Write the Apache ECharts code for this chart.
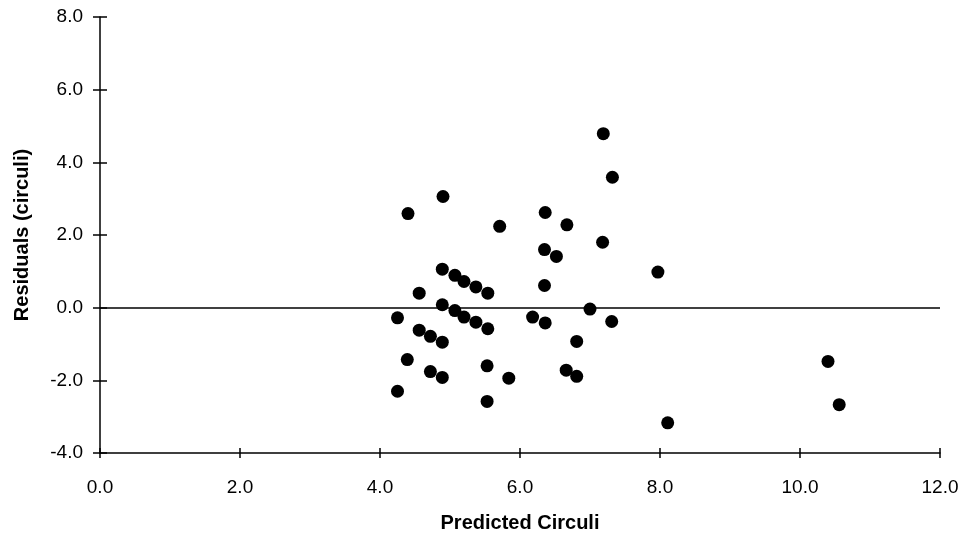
<!DOCTYPE html>
<html><head><meta charset="utf-8">
<script src="https://cdn.jsdelivr.net/npm/echarts@6/dist/echarts.min.js"></script>
<style>html,body{margin:0;padding:0;background:#fff}#c{width:967px;height:542px}</style>
</head><body><div id="c"></div>
<script>
const xTitle = "Predicted Circuli";
const yTitle = "Residuals (circuli)";
const predicted = [4.40,4.90,5.71,6.36,6.67,6.35,6.52,6.35,4.89,5.07,5.20,5.37,5.54,4.56,4.89,5.07,5.20,5.37,5.54,4.25,4.56,4.72,4.89,6.18,6.36,6.81,4.39,4.72,4.89,5.53,5.84,4.25,5.53,6.66,6.81,7.19,7.32,7.18,7.97,7.00,7.31,8.11,10.40,10.56];
const residuals = [2.59,3.06,2.24,2.62,2.28,1.60,1.41,0.61,1.06,0.89,0.72,0.57,0.40,0.40,0.08,-0.08,-0.26,-0.40,-0.58,-0.28,-0.62,-0.79,-0.95,-0.26,-0.42,-0.93,-1.43,-1.76,-1.92,-1.60,-1.94,-2.30,-2.58,-1.72,-1.89,4.79,3.59,1.80,0.98,-0.04,-0.38,-3.17,-1.48,-2.67];
const xMin = 0, xMax = 12, xStep = 2;
const yMin = -4, yMax = 8, yStep = 2;
const refLineY = 0;

const pts = predicted.map((v,i)=>[v,residuals[i]]);
const fontFam = "'Liberation Sans', Arial, sans-serif";
const lineStyle = {color:'#000', width:1.5};
const hidden = {color:'rgba(0,0,0,0)', width:1};
const chart = echarts.init(document.getElementById('c'));
chart.setOption({
  animation:false,
  grid:{left:100,right:27,top:17,bottom:89,containLabel:false},
  xAxis:[{
    type:'value',min:xMin,max:xMax,interval:xStep,
    name:xTitle,nameLocation:'middle',nameGap:60,
    nameTextStyle:{fontFamily:fontFam,fontWeight:'bold',fontSize:20,color:'#000'},
    axisLine:{onZero:false,lineStyle:lineStyle},
    axisTick:{show:true,length:5,lineStyle:lineStyle},
    axisLabel:{fontFamily:fontFam,fontSize:19,color:'#000',margin:25,formatter:v=>v.toFixed(1)},
    splitLine:{show:false}
  },{
    type:'value',min:xMin,max:xMax,interval:xStep,position:'bottom',
    axisLine:{show:true,onZero:false,lineStyle:hidden},axisTick:{show:true,inside:true,length:5,lineStyle:lineStyle},
    axisLabel:{show:false},splitLine:{show:false}
  }],
  yAxis:[{
    type:'value',min:yMin,max:yMax,interval:yStep,
    name:yTitle,nameLocation:'middle',nameGap:68,
    nameTextStyle:{fontFamily:fontFam,fontWeight:'bold',fontSize:20,color:'#000'},
    axisLine:{show:true,onZero:false,lineStyle:lineStyle},
    axisTick:{show:true,length:7,lineStyle:lineStyle},
    axisLabel:{fontFamily:fontFam,fontSize:19,color:'#000',margin:17,formatter:v=>v.toFixed(1)},
    splitLine:{show:false}
  },{
    type:'value',min:yMin,max:yMax,interval:yStep,position:'left',
    axisLine:{show:true,onZero:false,lineStyle:hidden},axisTick:{show:true,inside:true,length:7,lineStyle:lineStyle},
    axisLabel:{show:false},splitLine:{show:false}
  }],
  series:[{
    type:'scatter',xAxisIndex:0,yAxisIndex:0,data:pts,symbol:'circle',symbolSize:13,
    itemStyle:{color:'#000',opacity:1},
    markLine:{silent:true,symbol:'none',label:{show:false},lineStyle:{color:'#000',width:1.5,type:'solid'},
      data:[{yAxis:refLineY}]}
  },{
    type:'scatter',xAxisIndex:1,yAxisIndex:1,data:[],silent:true
  }]
});
</script></body></html>
